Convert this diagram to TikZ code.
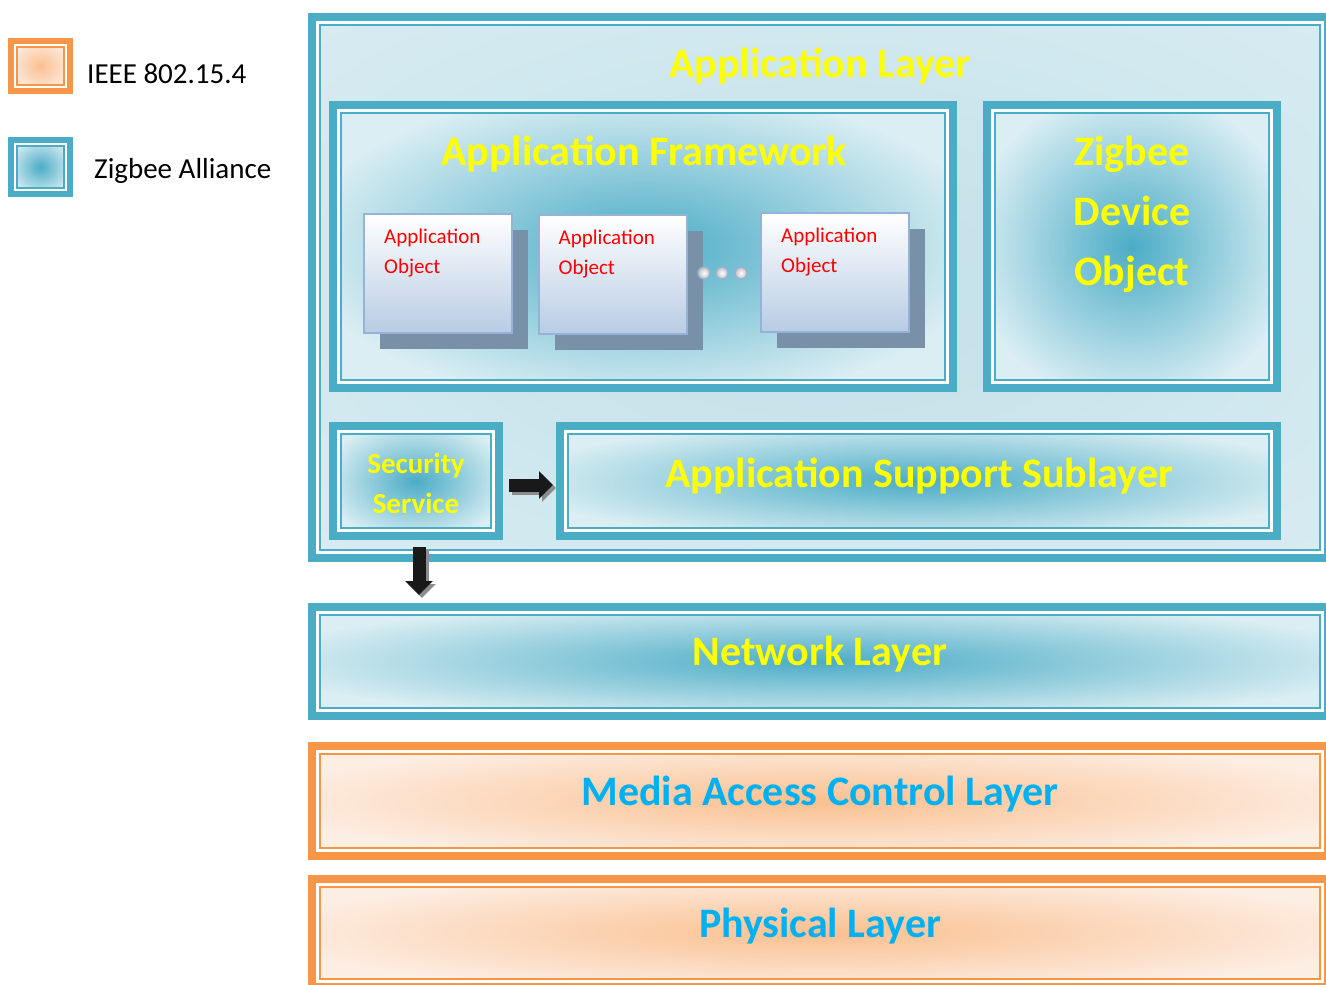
\documentclass[tikz,border=0pt]{standalone}
\usepackage{fontspec}
\setmainfont{Carlito}
\usetikzlibrary{arrows.meta,shadows}

\definecolor{zblue}{HTML}{4BACC6}
\definecolor{zlight}{HTML}{DAEEF3}
\definecolor{zpale}{HTML}{C2DFE8}
\definecolor{iorange}{HTML}{F79646}
\definecolor{ilight}{HTML}{FDEEE4}
\definecolor{imid}{HTML}{FAC090}
\definecolor{ytext}{HTML}{FFFF00}
\definecolor{btext}{HTML}{00B0F0}
\definecolor{objline}{HTML}{95B3D7}
\definecolor{objfill}{HTML}{B8CCE4}
\definecolor{objshadow}{HTML}{7890A8}

\pgfdeclareradialshading{blueglow}{\pgfpoint{0bp}{0bp}}{color(0bp)=(zblue); color(28bp)=(zlight); color(50bp)=(zlight)}
\pgfdeclareradialshading{paleglow}{\pgfpoint{0bp}{0bp}}{color(0bp)=(zpale); color(40bp)=(zlight); color(50bp)=(zlight)}
\pgfdeclareradialshading{orangeglow}{\pgfpoint{0bp}{0bp}}{color(0bp)=(imid); color(28bp)=(ilight); color(50bp)=(ilight)}

\tikzset{
  zframe/.style={draw=zblue,line width=8pt,inner sep=0pt,outer sep=0pt,shade,shading=blueglow},
  iframe/.style={draw=iorange,line width=8pt,inner sep=0pt,outer sep=0pt,shade,shading=orangeglow},
  ztitle/.style={font=\bfseries\fontsize{42}{60}\selectfont,text=ytext,align=center,inner sep=0pt},
  ititle/.style={ztitle,text=btext},
  keytext/.style={font=\fontsize{29}{35}\selectfont,inner sep=0pt},
  objtext/.style={font=\fontsize{21}{30}\selectfont,text=red,align=left,inner sep=0pt,anchor=north west},
  appobj/.style={draw=objline,line width=2pt,top color=white,bottom color=objfill,
    minimum width=148pt,minimum height=119pt,inner sep=0pt,
    drop shadow={shadow xshift=16pt,shadow yshift=-16pt,fill=objshadow,opacity=1}},
  dot/.style={circle,draw=objline,line width=1.5pt,inner color=white,outer color=black!25,
    minimum size=12pt,inner sep=0pt},
  blockarrow/.style={line width=13pt,draw=black!90,-{Triangle[length=14pt,width=27pt]}},
  blockshadow/.style={blockarrow,draw=black!45,transform canvas={shift={(3pt,-3pt)}}}
}

\begin{document}
\begin{tikzpicture}[x=1pt,y=-1pt]
\clip (0,0) rectangle (1326,985);
\fill[white] (0,0) rectangle (1326,985);

% legend
\node[iframe,line width=6pt,minimum width=59pt,minimum height=50pt] (ieeekey) at (40.5,66) {};
\node[zframe,line width=6pt,minimum width=59pt,minimum height=54pt] (zbkey) at (40.5,167) {};
\draw[white,line width=2pt] ([shift={(4pt,-4pt)}]ieeekey.north west) rectangle ([shift={(-4pt,4pt)}]ieeekey.south east);
\draw[iorange,line width=1.5pt] ([shift={(6pt,-6pt)}]ieeekey.north west) rectangle ([shift={(-6pt,6pt)}]ieeekey.south east);
\draw[white,line width=2pt] ([shift={(4pt,-4pt)}]zbkey.north west) rectangle ([shift={(-4pt,4pt)}]zbkey.south east);
\draw[zblue,line width=1.5pt] ([shift={(6pt,-6pt)}]zbkey.north west) rectangle ([shift={(-6pt,6pt)}]zbkey.south east);
\node[keytext,anchor=base west] (ieeelbl) at (87,83) {IEEE 802.15.4};
\node[keytext,anchor=base west] (zblbl) at (94,178) {Zigbee Alliance};

% layers
\node[zframe,shading=paleglow,minimum width=1016pt,minimum height=541pt] (app) at (820,287.5) {};
\node[zframe,minimum width=620pt,minimum height=283pt] (fw) at (643,246.5) {};
\node[zframe,minimum width=290pt,minimum height=283pt] (zdo) at (1132,246.5) {};
\node[zframe,minimum width=166pt,minimum height=110pt] (sec) at (416,481) {};
\node[zframe,minimum width=717pt,minimum height=110pt] (aps) at (918.5,481) {};
\node[zframe,minimum width=1016pt,minimum height=109pt] (net) at (820,661.5) {};
\node[iframe,minimum width=1016pt,minimum height=110pt] (mac) at (820,801) {};
\node[iframe,minimum width=1016pt,minimum height=108pt] (phy) at (820,933) {};

% inner frame lines
\foreach \n in {app,fw,zdo,sec,aps,net}{
  \draw[white,line width=3pt] ([shift={(5.5pt,-5.5pt)}]\n.north west) rectangle ([shift={(-5.5pt,5.5pt)}]\n.south east);
  \draw[zblue,line width=2pt] ([shift={(8pt,-8pt)}]\n.north west) rectangle ([shift={(-8pt,8pt)}]\n.south east);
}
\foreach \n in {mac,phy}{
  \draw[white,line width=3pt] ([shift={(5.5pt,-5.5pt)}]\n.north west) rectangle ([shift={(-5.5pt,5.5pt)}]\n.south east);
  \draw[iorange,line width=2pt] ([shift={(8pt,-8pt)}]\n.north west) rectangle ([shift={(-8pt,8pt)}]\n.south east);
}

% titles
\node[ztitle,anchor=base] (applbl) at (820,77) {Application Layer};
\node[ztitle,anchor=base] (fwlbl) at (644,165) {Application Framework};
\node[ztitle] (zdolbl) at (1132,214) {Zigbee\\Device\\Object};
\node[ztitle,font=\bfseries\fontsize{29}{40}\selectfont] (seclbl) at (416,483) {Security\\Service};
\node[ztitle,anchor=base] (apslbl) at (919,487) {Application Support Sublayer};
\node[ztitle,anchor=base] (netlbl) at (820,665) {Network Layer};
\node[ititle,anchor=base] (maclbl) at (820,805) {Media Access Control Layer};
\node[ititle,anchor=base] (phylbl) at (820,937) {Physical Layer};

% application objects
\node[appobj] (ao1) at (438,273.5) {};
\node[appobj] (ao2) at (612.5,274.5) {};
\node[appobj] (ao3) at (835,272.5) {};
\foreach \o in {ao1,ao2,ao3}
  \node[objtext] (\o t) at ([shift={(21pt,-16pt)}]\o.north west) {Application\\Object};
\foreach \i/\x in {1/704,2/722,3/741}
  \node[dot] (dot\i) at (\x,273) {};

% arrows
\draw[blockshadow,shorten <=10pt,shorten >=7pt] ([yshift=-4pt]sec.east) -- ([yshift=-4pt]aps.west);
\draw[blockarrow,shorten <=10pt,shorten >=7pt] ([yshift=-4pt]sec.east) -- ([yshift=-4pt]aps.west);
\draw[blockshadow,shorten <=11pt,shorten >=12pt] ([xshift=3pt]sec.south) -- ([xshift=3pt]sec.south |- net.north);
\draw[blockarrow,shorten <=11pt,shorten >=12pt] ([xshift=3pt]sec.south) -- ([xshift=3pt]sec.south |- net.north);
\end{tikzpicture}
\end{document}
